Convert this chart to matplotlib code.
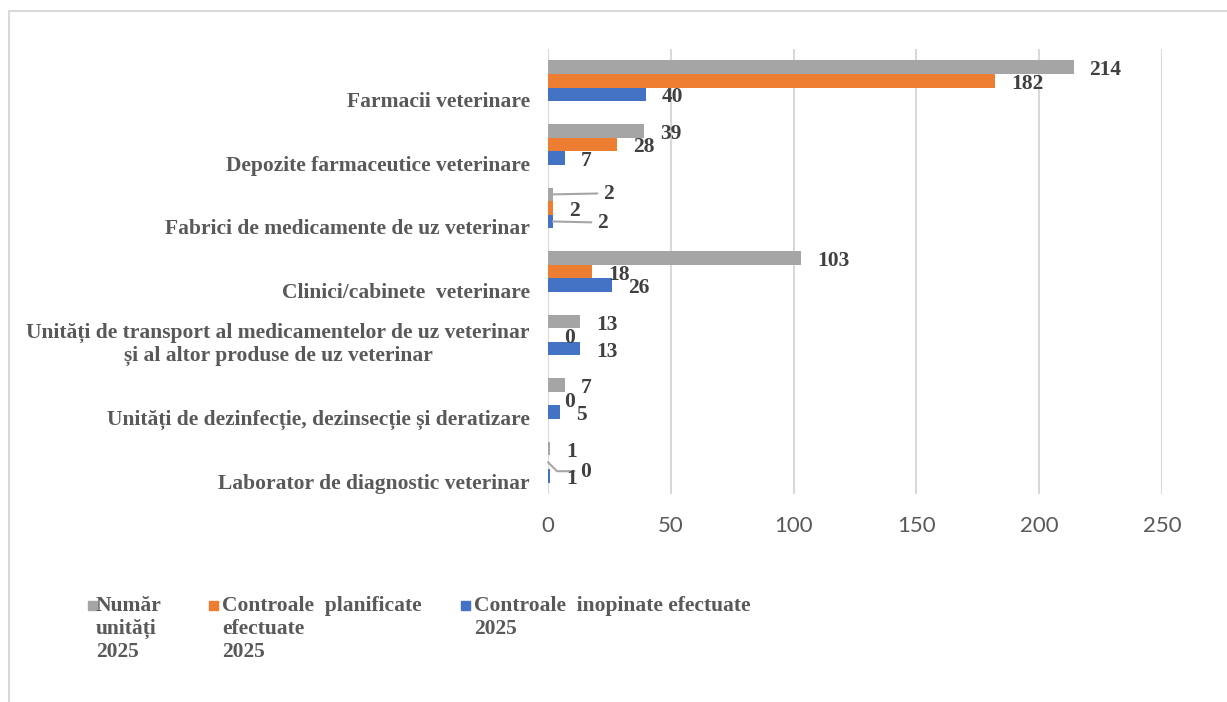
import matplotlib.pyplot as plt
from matplotlib.patches import Rectangle

# data (top to bottom, as in the chart)
categories = [
    "Farmacii veterinare",
    "Depozite farmaceutice veterinare",
    "Fabrici de medicamente de uz veterinar",
    "Clinici/cabinete  veterinare",
    "Unități de transport al medicamentelor de uz veterinar\nși al altor produse de uz veterinar",
    "Unități de dezinfecție, dezinsecție și deratizare",
    "Laborator de diagnostic veterinar",
]
numar_unitati = [214, 39, 2, 103, 13, 7, 1]
controale_planificate = [182, 28, 2, 18, 0, 0, 0]
controale_inopinate = [40, 7, 2, 26, 13, 5, 1]

series_names = [
    "Număr\nunități\n2025",
    "Controale  planificate\nefectuate\n2025",
    "Controale  inopinate efectuate\n2025",
]
x_ticks = [0, 50, 100, 150, 200, 250]

colors = ["#A5A5A5", "#ED7D31", "#4472C4"]
serif = "Liberation Serif"
fs = 15.5

W, H = 1227, 702
fig = plt.figure(figsize=(W / 100, H / 100), dpi=100)

# outer frame
fig.patches.append(Rectangle((9 / W, -0.01), 1.0, 1 - 11 / H + 0.01, transform=fig.transFigure,
                             fill=False, edgecolor="#D9D9D9", linewidth=1.5))

ax = fig.add_axes([548 / W, 1 - 494 / H, (1162 - 548) / W, (494 - 49) / H])

h = 0.213
all_series = [numar_unitati, controale_planificate, controale_inopinate]
offsets = [-h, 0, h]

# labels moved away from the bar end, with leader lines (pixels)
moved = {(0, 2): (50, 0), (2, 2): (44, -2), (1, 6): (32, -10)}
leader_style = {(1, 6): "angle,angleA=0,angleB=-45,rad=0"}

for s, vals in enumerate(all_series):
    ypos = [i + offsets[s] for i in range(len(categories))]
    ax.barh(ypos, vals, height=h, color=colors[s], zorder=2)
    for i, v in enumerate(vals):
        if (s, i) in moved:
            dx, dy = moved[(s, i)]
            ax.annotate(str(v), xy=(v, ypos[i]), xytext=(dx, dy), textcoords="offset pixels",
                        ha="left", va="center", fontsize=fs, fontweight="bold", family=serif,
                        color="#404040",
                        arrowprops=dict(arrowstyle="-", color="#A6A6A6", lw=1.5,
                                        shrinkA=2, shrinkB=0, relpos=(0, 0.55),
                                        connectionstyle=leader_style.get((s, i), "arc3")))
        else:
            ax.annotate(str(v), xy=(v, ypos[i]), xytext=(16, -3), textcoords="offset pixels",
                        ha="left", va="center", fontsize=fs, fontweight="bold", family=serif,
                        color="#404040")

ax.set_xlim(0, 250)
ax.set_ylim(6.5, -0.5)
ax.set_xticks(x_ticks)
ax.set_xticklabels([str(t) for t in x_ticks], family="Lato", fontsize=16, color="#595959")

tick_pos = [i + (0.08 if "\n" in c else 0.3) for i, c in enumerate(categories)]
ax.set_yticks(tick_pos)
ax.set_yticklabels(categories, family=serif, fontweight="bold", fontsize=fs, color="#595959")
for lbl in ax.get_yticklabels():
    lbl.set_multialignment("center")

ax.tick_params(axis="y", length=0, pad=13)
ax.tick_params(axis="x", length=0, pad=16)
for sp in ax.spines.values():
    sp.set_visible(False)
ax.xaxis.grid(True, color="#D9D9D9", linewidth=1.5)
ax.set_axisbelow(True)

# legend drawn below the plot
leg_sq_x = [88, 209, 461]
leg_txt_x = [96, 222, 474]
for k, name in enumerate(series_names):
    fig.patches.append(Rectangle((leg_sq_x[k] / W, 1 - 610 / H), 9 / W, 9 / H,
                                 transform=fig.transFigure, color=colors[k]))
    fig.text(leg_txt_x[k] / W, 1 - 596 / H, name, ha="left", va="top", fontsize=fs,
             fontweight="bold", family=serif, color="#595959", linespacing=1.2)

fig.savefig("out.png", dpi=100)
